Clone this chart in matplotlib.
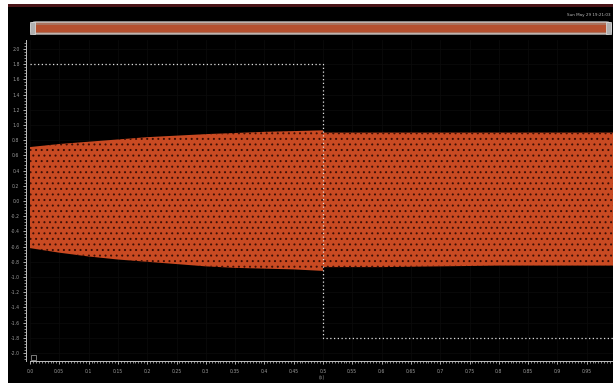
import numpy as np
import matplotlib
matplotlib.use("Agg")
import matplotlib.pyplot as plt
from matplotlib.patches import FancyBboxPatch, Rectangle
from matplotlib.ticker import MultipleLocator

# ---- data ----
env_x = [0.0, 0.05, 0.10, 0.15, 0.20, 0.25, 0.30, 0.35, 0.40, 0.45, 0.4999,
         0.5001, 0.60, 0.70, 0.80, 0.90, 1.0]
env_upper = [0.71, 0.75, 0.78, 0.81, 0.84, 0.86, 0.88, 0.895, 0.91, 0.92, 0.93,
             0.90, 0.90, 0.90, 0.90, 0.90, 0.90]
env_lower = [-0.62, -0.68, -0.73, -0.77, -0.80, -0.83, -0.86, -0.88, -0.89, -0.90, -0.92,
             -0.87, -0.87, -0.86, -0.85, -0.85, -0.85]

square_x = [0.0, 0.5, 0.5, 1.0]
square_y = [1.8, 1.8, -1.8, -1.8]

x_ticks = [0.0, 0.05, 0.1, 0.15, 0.2, 0.25, 0.3, 0.35, 0.4, 0.45,
           0.5, 0.55, 0.6, 0.65, 0.7, 0.75, 0.8, 0.85, 0.9, 0.95]
x_labels = ["0.0", "0.05", "0.1", "0.15", "0.2", "0.25", "0.3", "0.35", "0.4", "0.45",
            "0.5", "0.55", "0.6", "0.65", "0.7", "0.75", "0.8", "0.85", "0.9", "0.95"]
y_ticks = [round(-2.0 + 0.2 * i, 1) for i in range(21)]
y_labels = ["%.1f" % v for v in y_ticks]

plt.rcParams["hatch.linewidth"] = 0.7

W, H = 613, 383
fig = plt.figure(figsize=(W / 100, H / 100), dpi=100, facecolor="black")

left_px, right_px, top_px, bot_px = 30, 613, 40, 361
ax = fig.add_axes([left_px / W, (H - bot_px) / H,
                   (right_px - left_px) / W, (bot_px - top_px) / H])
ax.set_facecolor("black")

# signal band
ax.fill_between(env_x, env_lower, env_upper, facecolor="#c94a22", edgecolor="#3e0f06",
                hatch="...", linewidth=0, zorder=2)

# square wave
ax.plot(square_x, square_y, color="#e0e0e0", linestyle=(0, (1, 2)), linewidth=0.9, zorder=3)

ax.set_xlim(0, (right_px - left_px) / 586.0)
ax.set_ylim(-(bot_px - 201) / 76.0, (201 - top_px) / 76.0)

ax.set_xticks(x_ticks)
ax.set_xticklabels(x_labels)
ax.set_yticks(y_ticks)
ax.set_yticklabels(y_labels)
ax.xaxis.set_minor_locator(MultipleLocator(0.005))
ax.yaxis.set_minor_locator(MultipleLocator(0.04))
ax.tick_params(axis="both", which="major", colors="#c8c8c8", labelcolor="#9a9a9a",
               labelsize=3.3, length=2.5, width=0.6, direction="out")
ax.tick_params(axis="both", which="minor", colors="#c8c8c8", length=1.2, width=0.5,
               direction="out")
ax.tick_params(axis="x", pad=3)
ax.tick_params(axis="y", pad=2)

ax.grid(True, which="major", color="#0c0c0c", linewidth=0.5)
for s in ["top", "right"]:
    ax.spines[s].set_visible(False)
ax.spines["left"].set_color("#bdbdbd")
ax.spines["left"].set_linewidth(0.7)
ax.spines["left"].set_position(("outward", 3))
ax.spines["bottom"].set_color("#bdbdbd")
ax.spines["bottom"].set_linewidth(0.7)

ax.set_ylabel("(V)", color="#8a8a8a", fontsize=3.5, labelpad=5)
ax.set_xlabel("(s)", color="#8a8a8a", fontsize=3.5, labelpad=1)

# small box icon bottom-left
fig.patches.append(Rectangle((31 / W, (H - 360) / H), 5 / W, 5 / H, transform=fig.transFigure,
                             facecolor="black", edgecolor="#aaaaaa", linewidth=0.5))

# top white margin and maroon line, left white margin
fig.patches.append(Rectangle((0, (H - 4) / H), 1, 4 / H, transform=fig.transFigure,
                             facecolor="white", edgecolor="none"))
fig.patches.append(Rectangle((0, 0), 8 / W, 1, transform=fig.transFigure,
                             facecolor="white", edgecolor="none"))
fig.patches.append(Rectangle((8 / W, (H - 6.5) / H), 1, 2.5 / H, transform=fig.transFigure,
                             facecolor="#4a1418", edgecolor="none"))

# slider bar
fig.patches.append(FancyBboxPatch((31 / W, (H - 34) / H), 580 / W, 12 / H,
                                  boxstyle="round,pad=0,rounding_size=0.008",
                                  transform=fig.transFigure, facecolor="#a9735f",
                                  edgecolor="#d8d8d8", linewidth=0.9))
fig.patches.append(Rectangle((36 / W, (H - 31.5) / H), 570 / W, 7 / H, transform=fig.transFigure,
                             facecolor="#b5502f", edgecolor="none"))
fig.patches.append(Rectangle((30 / W, (H - 34) / H), 5 / W, 12 / H, transform=fig.transFigure,
                             facecolor="#b0b0b0", edgecolor="#e0e0e0", linewidth=0.5))
fig.patches.append(Rectangle((606 / W, (H - 34) / H), 5 / W, 12 / H, transform=fig.transFigure,
                             facecolor="#b0b0b0", edgecolor="#e0e0e0", linewidth=0.5))

fig.text(567 / W, (H - 15) / H, "Sun May 29 19:21:03", color="#bbbbbb", fontsize=3,
         ha="left", va="center")

fig.savefig("out.png", dpi=100, facecolor="black")
